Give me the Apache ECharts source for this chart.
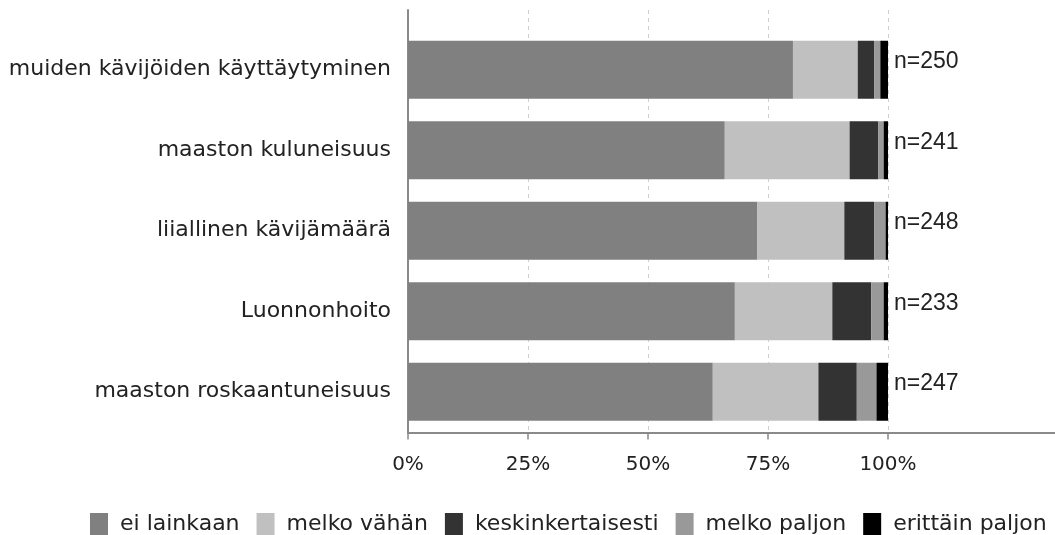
<!DOCTYPE html>
<html>
<head>
<meta charset="utf-8">
<script src="https://cdn.jsdelivr.net/npm/echarts@6/dist/echarts.min.js"></script>
<style>
  html, body {
    margin: 0;
    padding: 0;
    background: #fff;
  }
  #chart {
    width: 1055px;
    height: 535px;
  }
</style>
</head>
<body>
<div id="chart"></div>
<script>
// kategoriat (ylhäältä alas)
const categories = [
  'muiden kävijöiden käyttäytyminen',
  'maaston kuluneisuus',
  'liiallinen kävijämäärä',
  'Luonnonhoito',
  'maaston roskaantuneisuus'
];
// osuudet prosentteina
const eiLainkaan = [80.2, 66.0, 72.8, 68.1, 63.5];
const melkoVahan = [13.5, 26.0, 18.1, 20.3, 22.0];
const keskinkertaisesti = [3.4, 6.0, 6.2, 8.1, 8.0];
const melkoPaljon = [1.3, 1.1, 2.4, 2.6, 4.1];
const erittainPaljon = [1.6, 0.9, 0.5, 0.9, 2.4];
const nValues = [250, 241, 248, 233, 247];
const tickValues = [0, 25, 50, 75, 100];

const seriesNames = ['ei lainkaan', 'melko vähän', 'keskinkertaisesti', 'melko paljon', 'erittäin paljon'];
const seriesData = [eiLainkaan, melkoVahan, keskinkertaisesti, melkoPaljon, erittainPaljon];
const colors = ['#808080', '#c0c0c0', '#333333', '#999999', '#000000'];

const font = 'DejaVu Sans';
const textColor = '#222';

const chart = echarts.init(document.getElementById('chart'));

const series = seriesNames.map((name, i) => {
  const s = {
    name: name,
    type: 'bar',
    stack: 'total',
    xAxisIndex: 1,
    yAxisIndex: 1,
    barWidth: 58,
    itemStyle: {color: colors[i]},
    data: seriesData[i]
  };
  // n-luvut viimeisen palkin perään
  if (i === seriesNames.length - 1) {
    s.label = {
      show: true,
      position: 'right',
      distance: 6,
      offset: [0, -8],
      fontFamily: 'Liberation Sans',
      fontSize: 23,
      color: textColor,
      formatter: p => 'n=' + nValues[p.dataIndex]
    };
  }
  return s;
});

const option = {
  animation: false,
  color: colors,
  legend: {
    data: seriesNames,
    left: 85,
    top: 508,
    icon: 'rect',
    itemWidth: 18,
    itemHeight: 22,
    itemGap: 17,
    textStyle: {
      fontFamily: font,
      fontSize: 22,
      color: textColor,
      padding: [0, 0, 0, 7]
    }
  },
  grid: [
    // akselit ja apuviivat
    {left: 408, right: 0, top: 10, bottom: 102.5},
    // palkit
    {left: 408, right: 167, top: 29.5, bottom: 103}
  ],
  xAxis: [
    {
      type: 'value',
      gridIndex: 0,
      min: 0,
      max: 134.8,
      interval: 25,
      axisLine: {show: true, onZero: false, lineStyle: {color: '#8a8a8a', width: 2}},
      axisTick: {show: true, length: 7, customValues: tickValues, lineStyle: {color: '#8a8a8a', width: 1.5}},
      axisLabel: {
        customValues: tickValues,
        margin: 22,
        fontFamily: font,
        fontSize: 20,
        color: textColor,
        formatter: v => v + '%'
      },
      splitLine: {show: true, lineStyle: {color: '#d0d0d0', type: [4, 4]}}
    },
    {
      type: 'value',
      gridIndex: 1,
      min: 0,
      max: 100,
      show: false
    }
  ],
  yAxis: [
    {
      type: 'value',
      gridIndex: 0,
      min: 0,
      max: 1,
      axisLine: {show: true, lineStyle: {color: '#8a8a8a', width: 2}},
      axisTick: {show: false},
      axisLabel: {show: false},
      splitLine: {show: false}
    },
    {
      type: 'category',
      gridIndex: 1,
      inverse: true,
      data: categories,
      axisLine: {show: false},
      axisTick: {show: false},
      axisLabel: {
        margin: 17,
        fontFamily: font,
        fontSize: 22,
        color: textColor
      }
    }
  ],
  series: series
};

chart.setOption(option);
</script>
</body>
</html>
